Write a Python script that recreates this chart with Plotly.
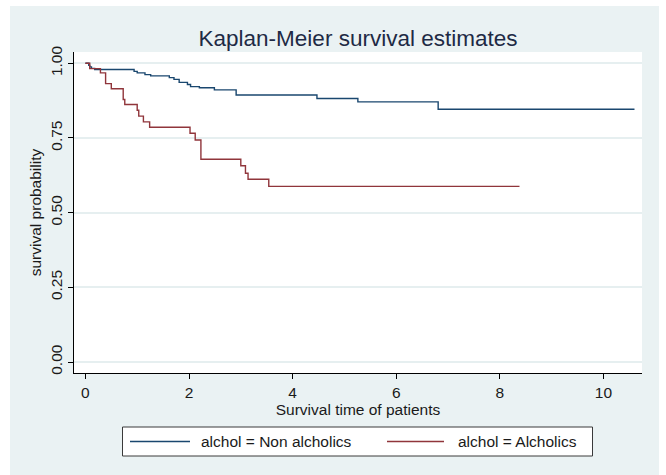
import plotly.graph_objects as go

# ---- data ----
series_names = ["alchol = Non alcholics", "alchol = Alcholics"]

non_time = [0, 0.065, 0.084, 0.117, 0.18, 0.94, 1.00, 1.15, 1.26, 1.62, 1.71, 1.81,
            1.97, 2.03, 2.20, 2.49, 2.91, 4.47, 5.26, 6.81, 10.6]
non_surv = [1.0, 0.993, 0.988, 0.983, 0.979, 0.973, 0.968, 0.962, 0.958, 0.952, 0.946,
            0.936, 0.929, 0.922, 0.918, 0.911, 0.894, 0.882, 0.871, 0.846, 0.846]

alc_time = [0, 0.084, 0.29, 0.39, 0.50, 0.73, 0.76, 1.00, 1.03, 1.12, 1.24, 2.02,
            2.12, 2.23, 3.00, 3.09, 3.14, 3.54, 8.38]
alc_surv = [1.0, 0.982, 0.968, 0.932, 0.915, 0.879, 0.862, 0.843, 0.823, 0.804, 0.786,
            0.766, 0.743, 0.679, 0.657, 0.632, 0.612, 0.588, 0.588]

x_ticks = [0, 2, 4, 6, 8, 10]
y_ticks = [0.0, 0.25, 0.5, 0.75, 1.0]
y_ticklabels = ["0.00", "0.25", "0.50", "0.75", "1.00"]

colors = ["#1a476f", "#90353b"]
BG = "#eaf2f3"
FONT = "Liberation Sans, Arial, sans-serif"
FS = 15.5

W, H = 666, 475
L, R, T, B = 74, 24, 52, 102
PW, PH = W - L - R, H - T - B


def px_x(p):
    return (p - L) / PW


def px_y(p):
    return (H - B - p) / PH


fig = go.Figure()
fig.add_trace(go.Scatter(x=non_time, y=non_surv, mode="lines", line_shape="hv",
                         line=dict(color=colors[0], width=1.4), name=series_names[0],
                         showlegend=False))
fig.add_trace(go.Scatter(x=alc_time, y=alc_surv, mode="lines", line_shape="hv",
                         line=dict(color=colors[1], width=1.4), name=series_names[1],
                         showlegend=False))

shapes = []
# white outer strips (outside the Stata graph region)
shapes.append(dict(type="rect", xref="paper", yref="paper", x0=px_x(0), x1=px_x(10),
                   y0=px_y(H), y1=px_y(0), fillcolor="white", line_width=0, layer="above"))
shapes.append(dict(type="rect", xref="paper", yref="paper", x0=px_x(0), x1=px_x(W),
                   y0=px_y(6), y1=px_y(0), fillcolor="white", line_width=0, layer="above"))
shapes.append(dict(type="rect", xref="paper", yref="paper", x0=px_x(659), x1=px_x(W),
                   y0=px_y(H), y1=px_y(0), fillcolor="white", line_width=0, layer="above"))
# legend box
shapes.append(dict(type="rect", xref="paper", yref="paper", x0=px_x(122.5), x1=px_x(592.5),
                   y0=px_y(456), y1=px_y(427), fillcolor="white",
                   line=dict(color="#3a3a3a", width=1), layer="above"))
leg_y = px_y(441.5)
shapes.append(dict(type="line", xref="paper", yref="paper", x0=px_x(130), x1=px_x(190),
                   y0=leg_y, y1=leg_y, line=dict(color=colors[0], width=1.4), layer="above"))
shapes.append(dict(type="line", xref="paper", yref="paper", x0=px_x(387), x1=px_x(444),
                   y0=leg_y, y1=leg_y, line=dict(color=colors[1], width=1.4), layer="above"))

annotations = [
    dict(text=series_names[0], xref="paper", yref="paper", x=px_x(199), y=leg_y,
         xanchor="left", yanchor="middle", showarrow=False,
         font=dict(family=FONT, size=FS, color="#1a1a1a")),
    dict(text=series_names[1], xref="paper", yref="paper", x=px_x(456), y=leg_y,
         xanchor="left", yanchor="middle", showarrow=False,
         font=dict(family=FONT, size=FS, color="#1a1a1a")),
]

fig.update_layout(
    width=W, height=H,
    margin=dict(l=L, r=R, t=T, b=B, pad=0),
    paper_bgcolor=BG, plot_bgcolor="white",
    font=dict(family=FONT, size=FS, color="#1a1a1a"),
    title=dict(text="Kaplan-Meier survival estimates", x=0.5, xref="paper", xanchor="center",
               y=1 - 38 / H, yref="container", yanchor="middle",
               font=dict(family=FONT, size=22.5, color="#1e2a45")),
    shapes=shapes, annotations=annotations,
    showlegend=False,
    xaxis=dict(range=[-0.22, 10.745], tickvals=x_ticks, ticks="outside", ticklen=5,
               tickcolor="black", showline=True, linecolor="black", linewidth=1,
               showgrid=False, zeroline=False, mirror=False,
               tickfont=dict(family=FONT, size=FS, color="#1a1a1a"),
               title=dict(text="Survival time of patients", standoff=1,
                          font=dict(family=FONT, size=FS, color="#1a1a1a"))),
    yaxis=dict(range=[-0.0368, 1.0378], tickvals=y_ticks, ticktext=y_ticklabels,
               tickangle=-90, ticks="outside", ticklen=5, tickcolor="black",
               showline=True, linecolor="black", linewidth=1,
               showgrid=True, gridcolor="#e6eff0", gridwidth=1.5, zeroline=False,
               tickfont=dict(family=FONT, size=FS, color="#1a1a1a"),
               title=dict(text="survival probability", standoff=2,
                          font=dict(family=FONT, size=FS, color="#1a1a1a"))),
)

fig.write_html("out.html")
